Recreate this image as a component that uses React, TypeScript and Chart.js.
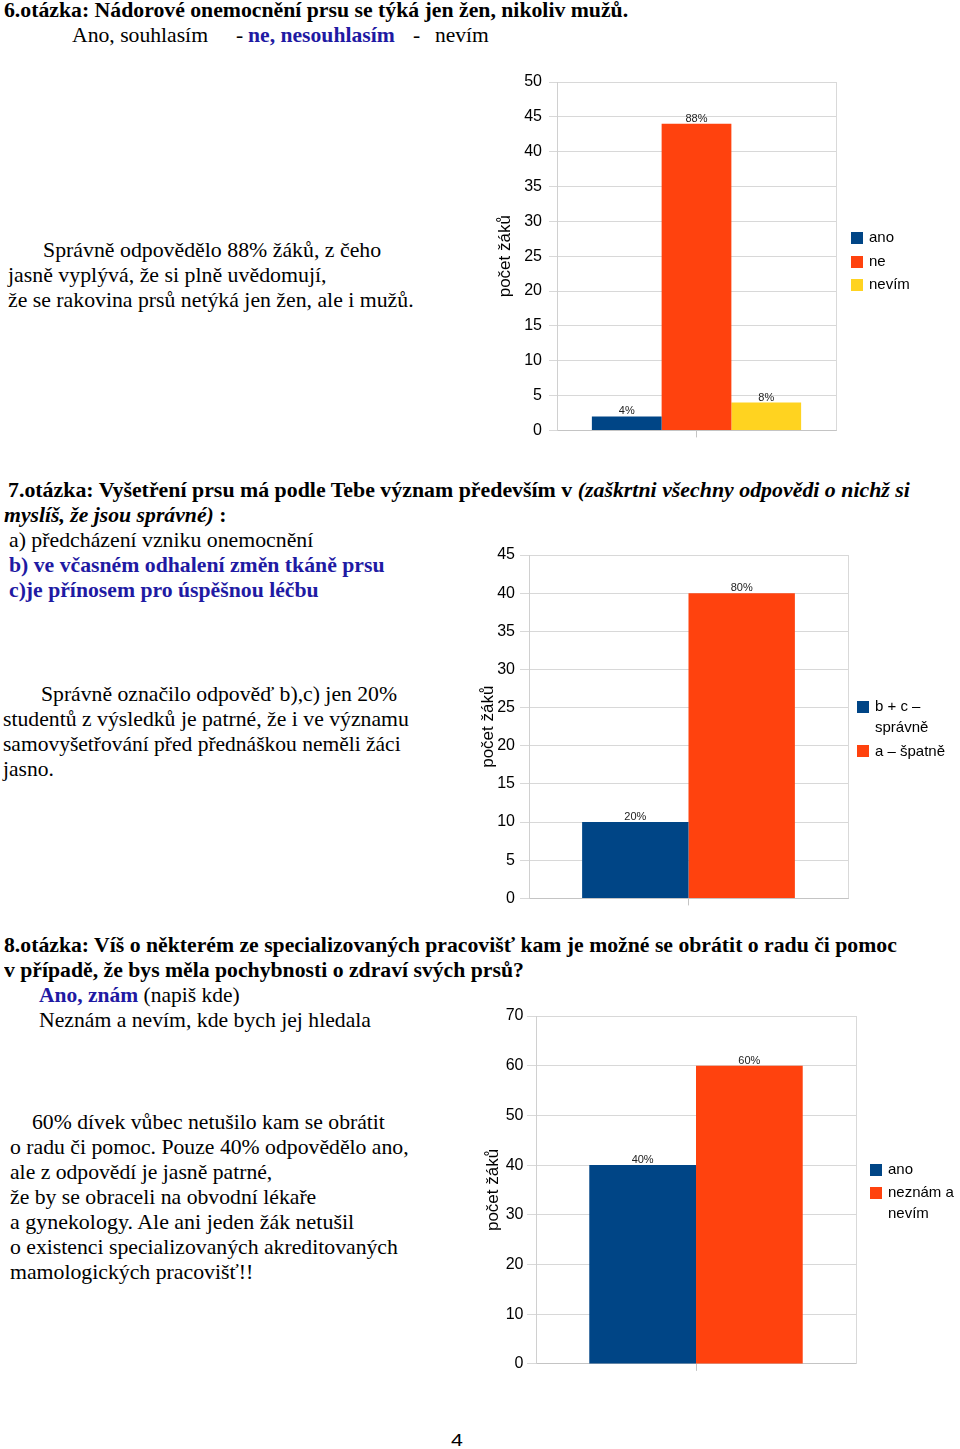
import React, { useEffect, useLayoutEffect, useRef } from 'react';
import { Chart, registerables } from 'chart.js';

Chart.register(...registerables);

const SANS = '"Liberation Sans", Arial, sans-serif';
const SERIF = '"Liberation Serif", "Times New Roman", serif';
const BLUE_TEXT = '#1f1aa3';

// ---------- data ----------
const axisTitle = 'počet žáků';

// Question 6
const q6Series = ['ano', 'ne', 'nevím'];
const q6Values = [2, 44, 4];
const q6Labels = ['4%', '88%', '8%'];
const q6Colors = ['#004586', '#ff420e', '#ffd320'];
const q6AxisMax = 50;
const q6Step = 5;

// Question 7
const q7Series = ['b + c –\nsprávně', 'a – špatně'];
const q7Values = [10, 40];
const q7Labels = ['20%', '80%'];
const q7Colors = ['#004586', '#ff420e'];
const q7AxisMax = 45;
const q7Step = 5;

// Question 8
const q8Series = ['ano', 'neznám a\nnevím'];
const q8Values = [40, 60];
const q8Labels = ['40%', '60%'];
const q8Colors = ['#004586', '#ff420e'];
const q8AxisMax = 70;
const q8Step = 10;

// ---------- plugins ----------
const barValuePlugin = {
  id: 'barValues',
  afterDatasetsDraw(chart: any, _a: any, opts: any) {
    const { ctx } = chart;
    const labels: string[] = opts.labels || [];
    ctx.save();
    ctx.font = `11px ${SANS}`;
    ctx.fillStyle = '#222';
    ctx.textAlign = 'center';
    ctx.textBaseline = 'alphabetic';
    chart.data.datasets.forEach((_ds: any, i: number) => {
      const meta = chart.getDatasetMeta(i);
      meta.data.forEach((el: any) => {
        ctx.fillText(labels[i], el.x, el.y - 2);
      });
    });
    ctx.restore();
  },
};

const framePlugin = {
  id: 'plotFrame',
  beforeDatasetsDraw(chart: any) {
    const { ctx, chartArea: a } = chart;
    ctx.save();
    ctx.strokeStyle = '#d9d9d9';
    ctx.lineWidth = 1;
    const x = Math.round(a.right) + 0.5;
    ctx.beginPath();
    ctx.moveTo(x, a.top);
    ctx.lineTo(x, a.bottom);
    ctx.stroke();
    ctx.restore();
  },
};

const sideLegendPlugin = {
  id: 'sideLegend',
  afterDraw(chart: any, _a: any, opts: any) {
    const { ctx, chartArea } = chart;
    const L = opts.lineHeight ?? 21;
    const G = opts.itemGap ?? 2.5;
    const box = opts.box ?? 12;
    const items = chart.data.datasets.map((ds: any) => ({
      lines: String(ds.label).split('\n'),
      color: ds.backgroundColor,
    }));
    const total =
      items.reduce((s: number, it: any) => s + it.lines.length * L, 0) + G * (items.length - 1);
    let y = (chartArea.top + chartArea.bottom) / 2 + (opts.shift ?? 0) - total / 2;
    const bx = chartArea.right + (opts.gap ?? 12);
    ctx.save();
    ctx.font = `${opts.fontSize ?? 15}px ${SANS}`;
    ctx.textAlign = 'left';
    ctx.textBaseline = 'middle';
    items.forEach((it: any) => {
      ctx.fillStyle = it.color;
      ctx.fillRect(bx, Math.round(y + L / 2 - box / 2), box, box);
      ctx.fillStyle = '#000';
      it.lines.forEach((ln: string, k: number) => {
        ctx.fillText(ln, bx + box + (opts.textGap ?? 6), y + L / 2 + k * L);
      });
      y += it.lines.length * L + G;
    });
    ctx.restore();
  },
};

// ---------- chart component ----------
type Geo = {
  left: number;
  top: number;
  width: number;
  height: number;
  yWidth: number;
  titlePad: number;
  tickLen: number;
  tickPad: number;
  padTop: number;
  padRight: number;
  legendGap: number;
  legendShift: number;
  catPct: number;
};

function BarChart(props: {
  series: string[];
  values: number[];
  labels: string[];
  colors: string[];
  max: number;
  step: number;
  geo: Geo;
}) {
  const ref = useRef<HTMLCanvasElement>(null);
  const { series, values, labels, colors, max, step, geo } = props;
  useEffect(() => {
    if (!ref.current) return;
    const chart = new Chart(ref.current, {
      type: 'bar',
      data: {
        labels: [''],
        datasets: series.map((s, i) => ({
          label: s,
          data: [values[i]],
          backgroundColor: colors[i],
          borderWidth: 0,
          categoryPercentage: geo.catPct,
          barPercentage: 1,
        })),
      },
      options: {
        animation: false,
        responsive: false,
        devicePixelRatio: 1,
        layout: { padding: { top: geo.padTop, right: geo.padRight, bottom: 0, left: 0 } },
        plugins: {
          legend: { display: false },
          tooltip: { enabled: false },
          barValues: { labels },
          sideLegend: {
            gap: geo.legendGap,
            shift: geo.legendShift,
            lineHeight: 21,
            itemGap: 2.5,
            box: 12,
            textGap: 6,
            fontSize: 15,
          },
        } as any,
        scales: {
          x: {
            grid: {
              offset: false,
              drawOnChartArea: false,
              drawTicks: true,
              tickLength: 7,
              color: '#c4c4c4',
            },
            border: { display: true, color: '#c4c4c4' },
            ticks: { display: true, font: { family: SANS, size: 12 } },
            afterFit: (s: any) => {
              s.height = 12;
            },
          },
          y: {
            min: 0,
            max,
            ticks: {
              stepSize: step,
              padding: geo.tickPad,
              color: '#000',
              font: { family: SANS, size: 16 },
            },
            grid: { color: '#d8d8d8', tickLength: geo.tickLen },
            border: { display: true, color: '#d0d0d0' },
            title: {
              display: true,
              text: axisTitle,
              color: '#000',
              font: { family: SANS, size: 17 },
              padding: { top: geo.titlePad, bottom: 0 },
            },
            afterFit: (s: any) => {
              s.width = geo.yWidth;
            },
          },
        } as any,
      },
      plugins: [framePlugin, barValuePlugin, sideLegendPlugin],
    });
    return () => chart.destroy();
  }, []);
  return (
    <canvas
      ref={ref}
      width={geo.width}
      height={geo.height}
      style={{
        position: 'absolute',
        left: geo.left,
        top: geo.top,
        width: geo.width,
        height: geo.height,
      }}
    />
  );
}

// ---------- text line fitted to a measured width ----------
function T(props: {
  x: number;
  base: number;
  w?: number;
  size?: number;
  sans?: boolean;
  style?: React.CSSProperties;
  children: React.ReactNode;
}) {
  const { x, base, w, size = 21.5, sans = false, style, children } = props;
  const ref = useRef<HTMLSpanElement>(null);
  useLayoutEffect(() => {
    const fit = () => {
      const el = ref.current;
      if (!el || !w) return;
      el.style.transform = 'none';
      const nat = el.offsetWidth;
      if (nat > 0) el.style.transform = `scaleX(${w / nat})`;
    };
    fit();
    if ((document as any).fonts && (document as any).fonts.ready) {
      (document as any).fonts.ready.then(fit);
    }
  }, [w]);
  const lh = Math.round(size * 1.2);
  const asc = sans ? 0.905 : 0.891;
  const desc = sans ? 0.212 : 0.216;
  const top = base - (lh - size * (asc + desc)) / 2 - size * asc;
  return (
    <span
      ref={ref}
      style={{
        position: 'absolute',
        left: x,
        top,
        fontSize: size,
        lineHeight: lh + 'px',
        whiteSpace: 'pre',
        fontFamily: sans ? SANS : SERIF,
        transformOrigin: '0 0',
        display: 'inline-block',
        color: '#000',
        ...style,
      }}
    >
      {children}
    </span>
  );
}

const blueBold: React.CSSProperties = { color: BLUE_TEXT, fontWeight: 'bold' };

export default function App() {
  return (
    <div
      style={{
        position: 'absolute',
        left: 0,
        top: 0,
        width: 960,
        height: 1449,
        background: '#fff',
        overflow: 'hidden',
      }}
    >
      {/* Question 6 */}
      <T x={4} base={17} w={624} style={{ fontWeight: 'bold' }}>
        6.otázka: Nádorové onemocnění prsu se týká jen žen, nikoliv mužů.
      </T>
      <T x={72} base={42} w={136}>Ano, souhlasím</T>
      <T x={236} base={42}>-</T>
      <T x={248} base={42} w={147} style={blueBold}>ne, nesouhlasím</T>
      <T x={413} base={42}>-</T>
      <T x={435} base={42} w={54}>nevím</T>

      <T x={43} base={257} w={338}>Správně odpovědělo 88% žáků, z čeho</T>
      <T x={8} base={282} w={318}>jasně vyplývá, že si plně uvědomují,</T>
      <T x={8} base={307} w={406}>že se rakovina prsů netýká jen žen, ale i mužů.</T>

      <BarChart
        series={q6Series}
        values={q6Values}
        labels={q6Labels}
        colors={q6Colors}
        max={q6AxisMax}
        step={q6Step}
        geo={{
          left: 480,
          top: 60,
          width: 480,
          height: 387,
          yWidth: 77,
          titlePad: 14.8,
          tickLen: 8,
          tickPad: 7,
          padTop: 22,
          padRight: 124,
          legendGap: 15,
          legendShift: 5.5,
          catPct: 0.75,
        }}
      />

      {/* Question 7 */}
      <T x={8} base={497} w={902} style={{ fontWeight: 'bold' }}>
        {'7.otázka: Vyšetření prsu má podle Tebe význam především v '}
        <i>(zaškrtni všechny odpovědi o nichž si</i>
      </T>
      <T x={4} base={522} w={222} style={{ fontWeight: 'bold' }}>
        <i>myslíš, že jsou správné)</i>
        {' :'}
      </T>
      <T x={9} base={547} w={304}>a) předcházení vzniku onemocnění</T>
      <T x={9} base={572} w={375} style={blueBold}>b) ve včasném odhalení změn tkáně prsu</T>
      <T x={9} base={597} w={310} style={blueBold}>c)je přínosem pro úspěšnou léčbu</T>

      <T x={41} base={701} w={356}>Správně označilo odpověď b),c) jen 20%</T>
      <T x={3} base={726} w={406}>studentů z výsledků je patrné, že i ve významu</T>
      <T x={3} base={751} w={398}>samovyšetřování před přednáškou neměli žáci</T>
      <T x={3} base={776} w={51}>jasno.</T>

      <BarChart
        series={q7Series}
        values={q7Values}
        labels={q7Labels}
        colors={q7Colors}
        max={q7AxisMax}
        step={q7Step}
        geo={{
          left: 470,
          top: 535,
          width: 490,
          height: 378,
          yWidth: 59,
          titlePad: 7.8,
          tickLen: 9,
          tickPad: 5,
          padTop: 20,
          padRight: 112,
          legendGap: 9,
          legendShift: 2.5,
          catPct: 0.667,
        }}
      />

      {/* Question 8 */}
      <T x={4} base={952} w={893} style={{ fontWeight: 'bold' }}>
        8.otázka: Víš o některém ze specializovaných pracovišť kam je možné se obrátit o radu či pomoc
      </T>
      <T x={4} base={977} w={520} style={{ fontWeight: 'bold' }}>
        v případě, že bys měla pochybnosti o zdraví svých prsů?
      </T>
      <T x={39} base={1002} w={201}>
        <span style={blueBold}>Ano, znám</span>
        {' (napiš kde)'}
      </T>
      <T x={39} base={1027} w={332}>Neznám a nevím, kde bych jej hledala</T>

      <T x={32} base={1129} w={353}>60% dívek vůbec netušilo kam se obrátit</T>
      <T x={10} base={1154} w={399}>o radu či pomoc. Pouze 40% odpovědělo ano,</T>
      <T x={10} base={1179} w={262}>ale z odpovědí je jasně patrné,</T>
      <T x={10} base={1204} w={306}>že by se obraceli na obvodní lékaře</T>
      <T x={10} base={1229} w={344}>a gynekology. Ale ani jeden žák netušil</T>
      <T x={10} base={1254} w={388}>o existenci specializovaných akreditovaných</T>
      <T x={10} base={1279} w={243}>mamologických pracovišť!!</T>

      <BarChart
        series={q8Series}
        values={q8Values}
        labels={q8Labels}
        colors={q8Colors}
        max={q8AxisMax}
        step={q8Step}
        geo={{
          left: 470,
          top: 996,
          width: 490,
          height: 381,
          yWidth: 66,
          titlePad: 13.1,
          tickLen: 9,
          tickPad: 3.5,
          padTop: 20,
          padRight: 104,
          legendGap: 14,
          legendShift: 2,
          catPct: 0.667,
        }}
      />

      <T x={451} base={1446} w={12} size={16} sans>4</T>
    </div>
  );
}
